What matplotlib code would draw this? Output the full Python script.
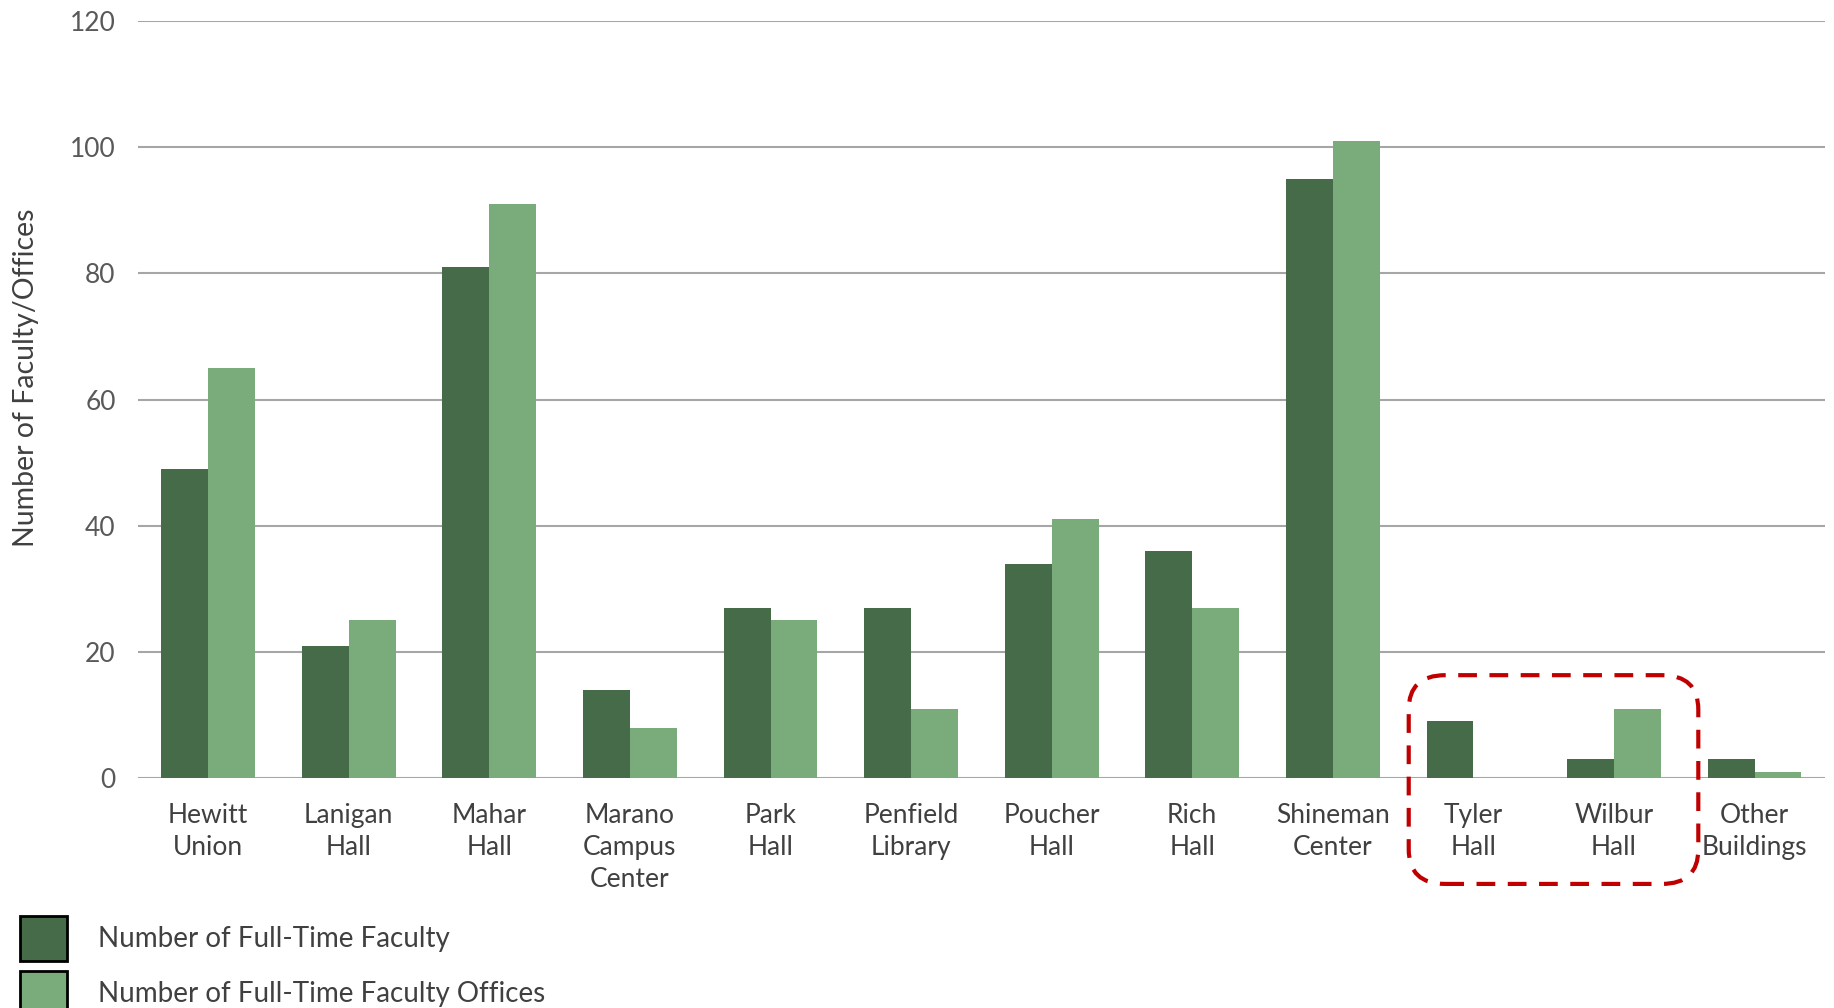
import matplotlib
matplotlib.use('Agg')
import matplotlib.pyplot as plt
from matplotlib.patches import FancyBboxPatch, Patch
import numpy as np

buildings = ['Hewitt\nUnion', 'Lanigan\nHall', 'Mahar\nHall', 'Marano\nCampus\nCenter',
             'Park\nHall', 'Penfield\nLibrary', 'Poucher\nHall', 'Rich\nHall',
             'Shineman\nCenter', 'Tyler\nHall', 'Wilbur\nHall', 'Other\nBuildings']
faculty = [49, 21, 81, 14, 27, 27, 34, 36, 95, 9, 3, 3]
offices = [65, 25, 91, 8, 25, 11, 41, 27, 101, 0, 11, 1]
yticks = [0, 20, 40, 60, 80, 100, 120]

DARK = '#466b48'
LIGHT = '#7aab7a'
TXT = '#404040'

plt.rcParams['font.family'] = ['Lato', 'DejaVu Sans']

fig = plt.figure(figsize=(18.34, 10.08), dpi=100)
ax = fig.add_axes([0.0752, 0.2282, 0.9198, 0.7508])

x = np.arange(len(buildings))
w = 1 / 3
ax.bar(x - w / 2, faculty, w, color=DARK, zorder=3)
ax.bar(x + w / 2, offices, w, color=LIGHT, zorder=3)

ax.set_xlim(-0.5, len(buildings) - 0.5)
ax.set_ylim(0, 120)
ax.set_yticks(yticks)
ax.set_yticklabels([str(v) for v in yticks], fontsize=19, color='#595959')
ax.set_xticks(x)
ax.set_xticklabels(buildings, fontsize=19, color=TXT, linespacing=1.36)
ax.tick_params(axis='both', length=0)
ax.tick_params(axis='y', pad=16)
ax.tick_params(axis='x', pad=18)
ax.grid(axis='y', color='#a6a6a6', lw=1.5, zorder=0)
for s in ax.spines.values():
    s.set_visible(False)

fig.text(0.014, 0.625, 'Number of Faculty/Offices', rotation=90, fontsize=20.5,
         color=TXT, ha='center', va='center')

# red dashed highlight around Tyler and Wilbur
box = FancyBboxPatch((8.54, -16.8), 2.06, 33.1,
                     boxstyle='round,pad=0,rounding_size=0.26',
                     mutation_aspect=21, transform=ax.transData, clip_on=False,
                     fill=False, edgecolor='#c00000', lw=3.0,
                     linestyle=(0, (4.5, 3.0)), zorder=5)
ax.add_patch(box)

handles = [Patch(facecolor=DARK, edgecolor='black', lw=2),
           Patch(facecolor=LIGHT, edgecolor='black', lw=2)]
fig.legend(handles, ['Number of Full-Time Faculty', 'Number of Full-Time Faculty Offices'],
           loc='upper left', bbox_to_anchor=(0.011, 0.0913), frameon=False,
           fontsize=20, labelcolor=TXT, handlelength=1.7, handleheight=2.1,
           handletextpad=1.1, labelspacing=0.38, borderaxespad=0, borderpad=0)

fig.savefig('out.png', dpi=100)
